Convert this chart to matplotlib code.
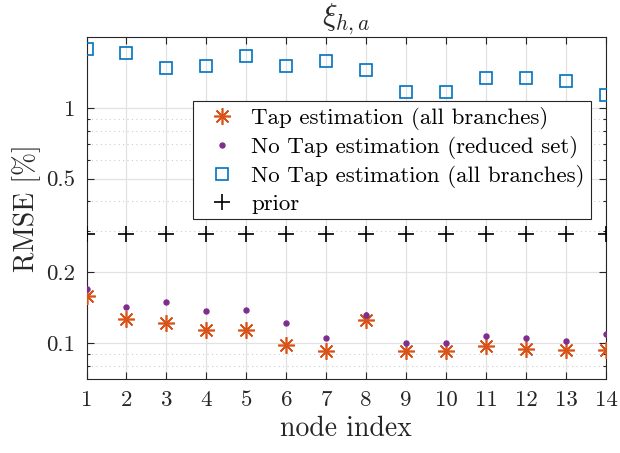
import matplotlib
matplotlib.use("Agg")
import matplotlib.pyplot as plt
from matplotlib.ticker import FixedLocator, FixedFormatter, NullFormatter

plt.rcParams['font.family'] = 'serif'
plt.rcParams['font.serif'] = ['cmr10', 'DejaVu Serif']
plt.rcParams['mathtext.fontset'] = 'cm'
plt.rcParams['axes.unicode_minus'] = False

nodes = [1, 2, 3, 4, 5, 6, 7, 8, 9, 10, 11, 12, 13, 14]
tap_all = [0.158, 0.126, 0.122, 0.113, 0.114, 0.098, 0.092, 0.125, 0.092, 0.092, 0.097, 0.094, 0.093, 0.093]
notap_reduced = [0.169, 0.142, 0.149, 0.137, 0.138, 0.121, 0.105, 0.132, 0.100, 0.100, 0.107, 0.105, 0.102, 0.109]
notap_all = [1.77, 1.71, 1.47, 1.51, 1.655, 1.50, 1.575, 1.45, 1.17, 1.17, 1.345, 1.345, 1.295, 1.135]
prior = [0.29, 0.29, 0.29, 0.29, 0.29, 0.29, 0.29, 0.29, 0.29, 0.29, 0.29, 0.29, 0.29, 0.29]

labels = ['Tap estimation (all branches)', 'No Tap estimation (reduced set)',
          'No Tap estimation (all branches)', 'prior']
yticks = [0.1, 0.2, 0.5, 1]
yticklabels = ['0.1', '0.2', '0.5', '1']
yminor = [0.08, 0.09, 0.3, 0.4, 0.6, 0.7, 0.8, 0.9]

axcol = '#262626'
fig = plt.figure(figsize=(6.2, 4.53), dpi=100)
ax = fig.add_axes([86.5/620, 1-379.3/453, (606-86.5)/620, (379.3-37)/453])

ax.set_yscale('log')
ax.plot(nodes, tap_all, linestyle='none', marker=(8, 2, 0), markersize=12,
        markeredgewidth=1.2, color='#D95319', label=labels[0], zorder=3)
ax.plot(nodes, notap_reduced, linestyle='none', marker='o', markersize=3.6,
        color='#7E2F8E', label=labels[1], zorder=3)
ax.plot(nodes, notap_all, linestyle='none', marker='s', markersize=9,
        markerfacecolor='none', markeredgewidth=1.2, color='#0072BD', label=labels[2], zorder=3)
ax.plot(nodes, prior, linestyle='none', marker='+', markersize=12,
        markeredgewidth=1.2, color='black', label=labels[3], zorder=3)

ax.set_xlim(1, 14)
ax.set_ylim(0.07, 2)
ax.set_xticks(nodes)
ax.set_xticklabels([str(n) for n in nodes])
ax.yaxis.set_major_locator(FixedLocator(yticks))
ax.yaxis.set_major_formatter(FixedFormatter(yticklabels))
ax.yaxis.set_minor_locator(FixedLocator(yminor))
ax.yaxis.set_minor_formatter(NullFormatter())

ax.grid(True, which='major', color='#e2e2e2', linewidth=0.9, linestyle='-', zorder=0)
ax.grid(True, which='minor', axis='y', color='#cccccc', linewidth=0.8, linestyle=(0, (1, 3)), zorder=0)
ax.set_axisbelow(True)

ax.tick_params(which='both', direction='in', top=True, right=True, colors=axcol,
               labelsize=16.5, width=0.8)
ax.tick_params(which='major', length=5, pad=8)
ax.tick_params(which='minor', length=2.5)
for s in ax.spines.values():
    s.set_color(axcol)
    s.set_linewidth(0.8)

ax.set_xlabel('node index', fontsize=20, color=axcol, labelpad=4)
ax.set_ylabel('RMSE [%]', fontsize=20, color=axcol, labelpad=4)
ax.set_title(r'$\xi_{h,a}$', fontsize=22, color=axcol, pad=6)

leg = ax.legend(loc='upper left', bbox_to_anchor=(193/620, 1-101/453),
                bbox_transform=fig.transFigure, fontsize=16.5, frameon=True,
                fancybox=False, edgecolor=axcol, framealpha=1, borderpad=0.25,
                labelspacing=0.26, handlelength=2.0, handletextpad=0.3,
                borderaxespad=0)
leg.get_frame().set_linewidth(0.8)
for t in leg.get_texts():
    t.set_color('black')

fig.savefig('out.png', dpi=100)
